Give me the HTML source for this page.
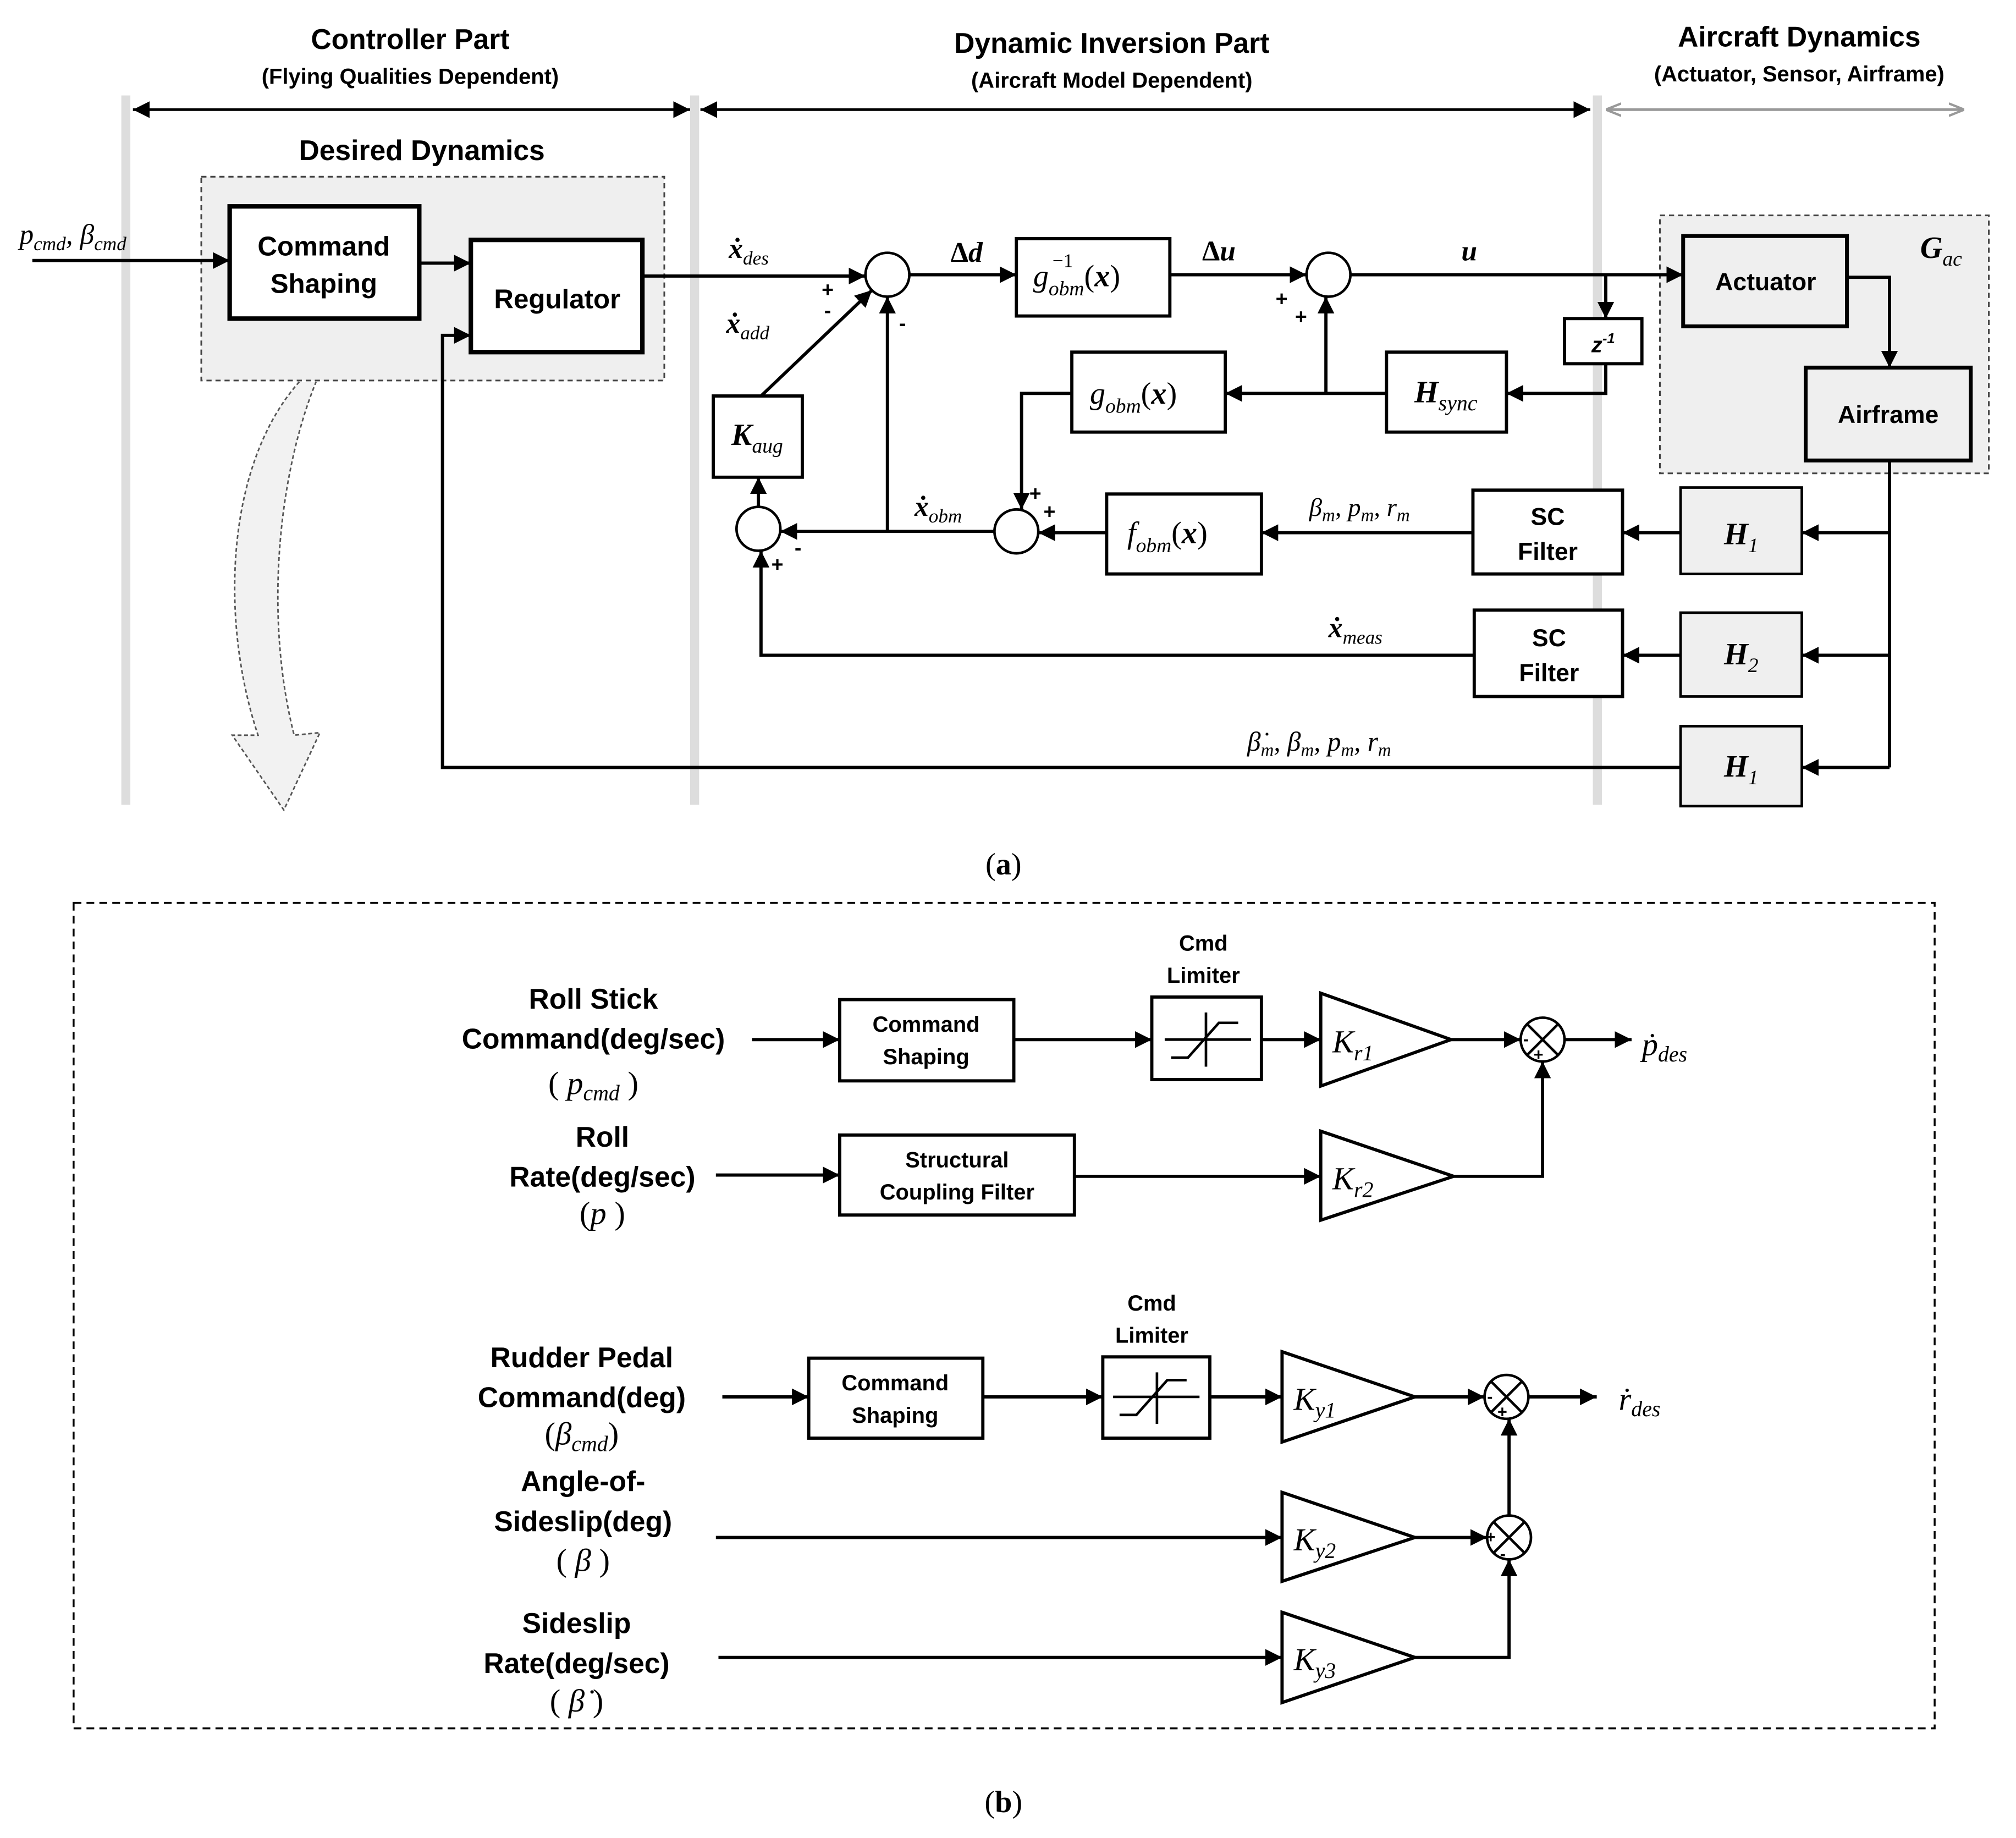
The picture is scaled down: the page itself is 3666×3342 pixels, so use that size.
<!DOCTYPE html>
<html><head><meta charset="utf-8"><style>
html,body{margin:0;padding:0;background:#fff;}
svg{display:block;}
.b{font-family:"Liberation Sans",sans-serif;font-weight:bold;}
.m{font-family:"Liberation Serif",serif;font-style:italic;}
.r{font-family:"Liberation Serif",serif;}
</style></head><body>
<svg width="3666" height="3342" viewBox="0 0 1563 1425" xmlns="http://www.w3.org/2000/svg">
<defs>
<marker id="ah" viewBox="0 0 10 10" refX="10" refY="5" markerWidth="13" markerHeight="13" orient="auto-start-reverse" markerUnits="userSpaceOnUse"><path d="M0,0 L10,5 L0,10 z" fill="#000"/></marker>
<marker id="ag" viewBox="0 0 10 10" refX="10" refY="5" markerWidth="12" markerHeight="12" orient="auto-start-reverse" markerUnits="userSpaceOnUse"><path d="M0,1 L10,5 L0,9" fill="none" stroke="#999" stroke-width="1.5"/></marker>
<marker id="k" viewBox="0 0 10 10" refX="10" refY="5" markerWidth="13" markerHeight="13" orient="auto" markerUnits="userSpaceOnUse"><path d="M0,0 L10,5 L0,10 z" fill="#000"/></marker>
</defs>
<rect width="1563" height="1425" fill="#fff"/>

<g class="b" text-anchor="middle" fill="#000">
<text x="318" y="38" font-size="22">Controller Part</text>
<text x="318" y="65" font-size="17">(Flying Qualities Dependent)</text>
<text x="862" y="41" font-size="22">Dynamic Inversion Part</text>
<text x="862" y="68" font-size="17">(Aircraft Model Dependent)</text>
<text x="1395" y="36" font-size="22">Aircraft  Dynamics</text>
<text x="1395" y="63" font-size="17">(Actuator, Sensor, Airframe)</text>
<text x="327" y="124" font-size="22">Desired Dynamics</text>
</g>
<g fill="#ddd"><rect x="94" y="74" width="7" height="550"/><rect x="535" y="74" width="7" height="550"/><rect x="1235" y="74" width="7" height="550"/></g>
<g stroke="#000" stroke-width="2" fill="none">
<line x1="103" y1="85" x2="535" y2="85" marker-start="url(#ah)" marker-end="url(#ah)"/>
<line x1="543" y1="85" x2="1233" y2="85" marker-start="url(#ah)" marker-end="url(#ah)"/>
</g>
<line x1="1245" y1="85" x2="1523" y2="85" stroke="#999" stroke-width="2" marker-start="url(#ag)" marker-end="url(#ag)"/>

<rect x="156" y="137" width="359" height="158" fill="#efefef" stroke="#444" stroke-width="1.3" stroke-dasharray="4,3"/>
<rect x="1287" y="167" width="255" height="200" fill="#efefef" stroke="#444" stroke-width="1.3" stroke-dasharray="4,3"/>
<path d="M232,296 C175,360 170,480 200,570 L180,570 L220,628 L248,568 L228,570 C205,480 215,370 245,296" fill="#f2f2f2" stroke="#555" stroke-width="1.2" stroke-dasharray="3,2"/>

<g stroke="#000" fill="#fff">
<rect x="178" y="160" width="147" height="87" stroke-width="3.5"/>
<rect x="365" y="186" width="133" height="87" stroke-width="3.5"/>
<rect x="788" y="185" width="119" height="60" stroke-width="2.5"/>
<rect x="1213" y="247" width="60" height="35" stroke-width="2.5"/>
<rect x="1075" y="273" width="93" height="62" stroke-width="2.5"/>
<rect x="831" y="273" width="119" height="62" stroke-width="2.5"/>
<rect x="858" y="383" width="120" height="62" stroke-width="2.5"/>
<rect x="1142" y="380" width="116" height="65" stroke-width="2.5"/>
<rect x="1143" y="473" width="115" height="67" stroke-width="2.5"/>
<rect x="553" y="307" width="69" height="63" stroke-width="2.5"/>
</g>
<g stroke="#000" fill="#efefef" stroke-width="3">
<rect x="1305" y="183" width="127" height="70"/>
<rect x="1400" y="285" width="128" height="72"/>
<rect x="1303" y="378" width="94" height="67" stroke-width="2"/>
<rect x="1303" y="475" width="94" height="65" stroke-width="2"/>
<rect x="1303" y="563" width="94" height="62" stroke-width="2"/>
</g>
<g stroke="#000" stroke-width="2" fill="#fff">
<circle cx="688" cy="213" r="17"/><circle cx="1030" cy="213" r="17"/>
<circle cx="788" cy="412" r="17"/><circle cx="588" cy="410" r="17"/>
</g>
<g stroke="#000" stroke-width="2.5" fill="none" marker-end="url(#k)">
<line x1="25" y1="202" x2="178" y2="202"/>
<line x1="325" y1="204" x2="365" y2="204"/>
<line x1="498" y1="214" x2="671" y2="214"/>
<line x1="705" y1="213" x2="788" y2="213"/>
<line x1="907" y1="213" x2="1013" y2="213"/>
<line x1="1047" y1="213" x2="1305" y2="213"/>
<line x1="1245" y1="213" x2="1245" y2="247"/>
<polyline points="1245,282 1245,305 1168,305"/>
<line x1="1075" y1="305" x2="950" y2="305"/>
<line x1="1028" y1="305" x2="1028" y2="230"/>
<polyline points="831,305 792,305 792,395"/>
<line x1="1142" y1="413" x2="978" y2="413"/>
<line x1="858" y1="413" x2="805" y2="413"/>
<line x1="1303" y1="413" x2="1258" y2="413"/>
<line x1="1303" y1="508" x2="1258" y2="508"/>
<polyline points="1143,508 590,508 590,427"/>
<line x1="771" y1="412" x2="605" y2="412"/>
<polyline points="688,412 688,230"/>
<line x1="588" y1="393" x2="588" y2="370"/>
<line x1="590" y1="307" x2="676" y2="225"/>
<polyline points="1303,595 343,595 343,260 365,260"/>
<polyline points="1432,215 1465,215 1465,285"/>
<line x1="1465" y1="413" x2="1397" y2="413"/>
<line x1="1465" y1="508" x2="1397" y2="508"/>
<line x1="1465" y1="595" x2="1397" y2="595"/>
</g>
<line x1="1465" y1="357" x2="1465" y2="595" stroke="#000" stroke-width="2.5"/>

<g class="b" text-anchor="middle" font-size="21">
<text x="251" y="198">Command</text><text x="251" y="227">Shaping</text>
<text x="432" y="239">Regulator</text>
<text x="1369" y="225" font-size="19">Actuator</text>
<text x="1464" y="328" font-size="19">Airframe</text>
<text x="1200" y="407" font-size="19">SC</text><text x="1200" y="434" font-size="19">Filter</text>
<text x="1201" y="501" font-size="19">SC</text><text x="1201" y="528" font-size="19">Filter</text>
<text x="1243" y="273" font-size="17" font-style="italic">z<tspan font-size="11" dy="-7">-1</tspan></text>
</g>
<g class="r" font-size="24">
<text x="801" y="222" class="m">g<tspan font-size="16" dy="7">obm</tspan><tspan dy="-7" font-style="normal">(</tspan><tspan font-weight="bold">x</tspan><tspan font-style="normal">)</tspan></text>
<text x="816" y="207" font-size="15">−1</text>
<text x="845" y="313" class="m">g<tspan font-size="16" dy="7">obm</tspan><tspan dy="-7" font-style="normal">(</tspan><tspan font-weight="bold">x</tspan><tspan font-style="normal">)</tspan></text>
<text x="874" y="421" class="m">f<tspan font-size="16" dy="7">obm</tspan><tspan dy="-7" font-style="normal">(</tspan><tspan font-weight="bold">x</tspan><tspan font-style="normal">)</tspan></text>
</g>
<g class="r" text-anchor="middle" font-size="24">
<text x="1121" y="312" class="m" font-weight="bold">H<tspan font-size="17" font-weight="normal" dy="6">sync</tspan></text>
<text x="587" y="345" class="m" font-weight="bold">K<tspan font-size="16" dy="6" font-weight="normal">aug</tspan></text>
<text x="1350" y="422" class="m" font-weight="bold">H<tspan font-size="16" dy="6" font-weight="normal">1</tspan></text>
<text x="1350" y="515" class="m" font-weight="bold">H<tspan font-size="16" dy="6" font-weight="normal">2</tspan></text>
<text x="1350" y="602" class="m" font-weight="bold">H<tspan font-size="16" dy="6" font-weight="normal">1</tspan></text>
<text x="1505" y="200" class="m" font-weight="bold">G<tspan font-size="16" dy="6" font-weight="normal">ac</tspan></text>
</g>
<g class="m" font-size="22">
<text x="15" y="189">p<tspan font-size="15" dy="5">cmd</tspan><tspan dy="-5">, β</tspan><tspan font-size="15" dy="5">cmd</tspan></text>
<text x="565" y="200" font-weight="bold">ẋ<tspan font-size="15" dy="5" font-weight="normal">des</tspan></text>
<text x="563" y="258" font-weight="bold">ẋ<tspan font-size="15" dy="5" font-weight="normal">add</tspan></text>
<text x="737" y="203" font-weight="bold" font-style="normal">Δ<tspan font-style="italic">d</tspan></text>
<text x="932" y="202" font-weight="bold" font-style="normal">Δ<tspan font-style="italic">u</tspan></text>
<text x="1133" y="202" font-weight="bold">u</text>
<text x="709" y="400" font-weight="bold">ẋ<tspan font-size="15" dy="5" font-weight="normal">obm</tspan></text>
<text x="1015" y="400" font-size="20">β<tspan font-size="14" dy="4">m</tspan><tspan dy="-4">, p</tspan><tspan font-size="14" dy="4">m</tspan><tspan dy="-4">, r</tspan><tspan font-size="14" dy="4">m</tspan></text>
<text x="1030" y="494" font-weight="bold">ẋ<tspan font-size="15" dy="5" font-weight="normal">meas</tspan></text>
<text x="967" y="582" font-size="21">β̇<tspan font-size="14" dy="4">m</tspan><tspan dy="-4">, β</tspan><tspan font-size="14" dy="4">m</tspan><tspan dy="-4">, p</tspan><tspan font-size="14" dy="4">m</tspan><tspan dy="-4">, r</tspan><tspan font-size="14" dy="4">m</tspan></text>
</g>
<g class="b" font-size="16">
<text x="637" y="230">+</text><text x="639" y="246">-</text>
<text x="697" y="256">-</text>
<text x="989" y="237">+</text><text x="1004" y="251">+</text>
<text x="798" y="388">+</text><text x="809" y="402">+</text>
<text x="598" y="443">+</text><text x="616" y="430">-</text>
</g>
<text x="778" y="678" class="r" font-size="24" text-anchor="middle">(<tspan font-weight="bold">a</tspan>)</text>

<rect x="57" y="700" width="1443" height="640" fill="none" stroke="#000" stroke-width="1.5" stroke-dasharray="6,4"/>
<g class="b" text-anchor="middle" font-size="22">
<text x="460" y="782">Roll Stick</text><text x="460" y="813">Command(deg/sec)</text>
<text x="467" y="889">Roll</text><text x="467" y="920">Rate(deg/sec)</text>
<text x="451" y="1060">Rudder Pedal</text><text x="451" y="1091">Command(deg)</text>
<text x="452" y="1156">Angle-of-</text><text x="452" y="1187">Sideslip(deg)</text>
<text x="447" y="1266">Sideslip</text><text x="447" y="1297">Rate(deg/sec)</text>
</g>
<g class="m" font-size="25" text-anchor="middle">
<text x="460" y="848"><tspan font-style="normal">(</tspan> p<tspan font-size="17" dy="5">cmd</tspan><tspan dy="-5" font-style="normal">    )</tspan></text>
<text x="467" y="949"><tspan font-style="normal">(</tspan>p <tspan font-style="normal">)</tspan></text>
<text x="451" y="1120"><tspan font-style="normal">(</tspan>β<tspan font-size="17" dy="5">cmd</tspan><tspan dy="-5" font-style="normal">)</tspan></text>
<text x="452" y="1218"><tspan font-style="normal">(</tspan> β <tspan font-style="normal">)</tspan></text>
<text x="447" y="1327"><tspan font-style="normal">(</tspan> β̇ <tspan font-style="normal">)</tspan></text>
</g>
<text x="1273" y="818" class="m" font-size="25">ṗ<tspan font-size="17" dy="5">des</tspan></text>
<text x="1255" y="1093" class="m" font-size="25">ṙ<tspan font-size="17" dy="5">des</tspan></text>

<g stroke="#000" stroke-width="2.5" fill="#fff">
<rect x="651" y="775" width="135" height="63"/>
<rect x="893" y="773" width="85" height="64"/>
<rect x="651" y="880" width="182" height="62"/>
<rect x="627" y="1053" width="135" height="62"/>
<rect x="855" y="1052" width="83" height="63"/>
<polygon points="1024,770 1125,806 1024,842"/>
<polygon points="1024,877 1127,912 1024,946"/>
<polygon points="994,1048 1097,1083 994,1118"/>
<polygon points="994,1157 1097,1192 994,1226"/>
<polygon points="994,1250 1097,1285 994,1320"/>
</g>
<g stroke="#000" stroke-width="2" fill="#fff">
<circle cx="1196" cy="806" r="17"/><circle cx="1168" cy="1083" r="17"/><circle cx="1170" cy="1192" r="17"/>
<path d="M1184,794 L1208,818 M1208,794 L1184,818 M1156,1071 L1180,1095 M1180,1071 L1156,1095 M1158,1180 L1182,1204 M1182,1180 L1158,1204"/>
</g>
<g stroke="#000" stroke-width="2" fill="none">
<path d="M935,785 V827 M903,806 H970 M908,820 H921 L945,793 H960"/>
<path d="M897,1064 V1104 M863,1083 H930 M868,1097 H881 L905,1070 H920"/>
</g>
<g class="b" font-size="17" text-anchor="middle">
<text x="933" y="737">Cmd</text><text x="933" y="762">Limiter</text>
<text x="893" y="1016">Cmd</text><text x="893" y="1041">Limiter</text>
<text x="718" y="800">Command</text><text x="718" y="825">Shaping</text>
<text x="742" y="905">Structural</text><text x="742" y="930">Coupling Filter</text>
<text x="694" y="1078">Command</text><text x="694" y="1103">Shaping</text>
</g>
<g class="m" font-size="25">
<text x="1033" y="816">K<tspan font-size="17" dy="6">r1</tspan></text>
<text x="1033" y="922">K<tspan font-size="17" dy="6">r2</tspan></text>
<text x="1003" y="1093">K<tspan font-size="17" dy="6">y1</tspan></text>
<text x="1003" y="1202">K<tspan font-size="17" dy="6">y2</tspan></text>
<text x="1003" y="1295">K<tspan font-size="17" dy="6">y3</tspan></text>
</g>
<g class="b" font-size="13">
<text x="1181" y="810">-</text><text x="1189" y="822">+</text>
<text x="1153" y="1087">-</text><text x="1161" y="1099">+</text>
<text x="1152" y="1196">+</text><text x="1163" y="1209">-</text>
</g>
<g stroke="#000" stroke-width="2.5" fill="none" marker-end="url(#k)">
<line x1="583" y1="806" x2="651" y2="806"/>
<line x1="786" y1="806" x2="893" y2="806"/>
<line x1="978" y1="806" x2="1024" y2="806"/>
<line x1="1125" y1="806" x2="1179" y2="806"/>
<line x1="1213" y1="806" x2="1265" y2="806"/>
<line x1="555" y1="911" x2="651" y2="911"/>
<line x1="833" y1="912" x2="1024" y2="912"/>
<polyline points="1127,912 1196,912 1196,823"/>
<line x1="560" y1="1083" x2="627" y2="1083"/>
<line x1="762" y1="1083" x2="855" y2="1083"/>
<line x1="938" y1="1083" x2="994" y2="1083"/>
<line x1="1097" y1="1083" x2="1151" y2="1083"/>
<line x1="1185" y1="1083" x2="1238" y2="1083"/>
<line x1="555" y1="1192" x2="994" y2="1192"/>
<line x1="1097" y1="1192" x2="1153" y2="1192"/>
<line x1="1170" y1="1175" x2="1170" y2="1100"/>
<line x1="557" y1="1285" x2="994" y2="1285"/>
<polyline points="1097,1285 1170,1285 1170,1209"/>
</g>
<text x="778" y="1405" class="r" font-size="24" text-anchor="middle">(<tspan font-weight="bold">b</tspan>)</text>
</svg>
</body></html>
